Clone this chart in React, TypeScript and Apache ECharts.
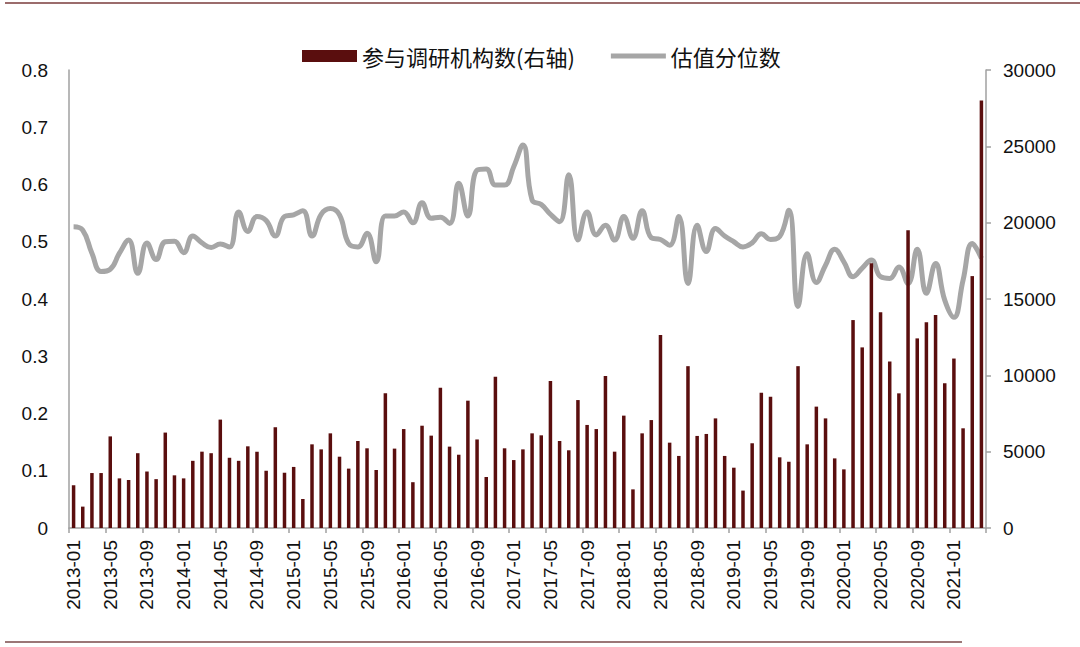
import React, { useEffect, useRef } from "react";
import * as echarts from "echarts";

const startYear = 2013;
const monthCount = 100; // 2013-01 .. 2021-04
const months: string[] = [];
for (let k = 0; k < monthCount; k++) {
  const y = startYear + Math.floor(k / 12);
  const m = (k % 12) + 1;
  months.push(`${y}-${m < 10 ? "0" + m : m}`);
}

const institutionCounts: number[] = [
  // 2013
  2800, 1400, 3600, 3600, 6000, 3250, 3150, 4900, 3700, 3200, 6250, 3450,
  // 2014
  3250, 4400, 5000, 4900, 7100, 4600, 4400, 5350, 5000, 3750, 6600, 3620,
  // 2015
  4000, 1900, 5480, 5150, 6200, 4670, 3890, 5700, 5220, 3800, 8820, 5200,
  // 2016
  6480, 3000, 6700, 6050, 9190, 5330, 4800, 8340, 5800, 3340, 9910, 5220,
  // 2017
  4450, 5150, 6200, 6070, 9630, 5700, 5090, 8380, 6750, 6480, 9960, 5000,
  // 2018
  7360, 2530, 6200, 7070, 12640, 5590, 4720, 10600, 6030, 6160, 7180, 4720,
  // 2019
  3950, 2450, 5550, 8860, 8600, 4630, 4340, 10600, 5480, 7950, 7180, 4560,
  // 2020
  3840, 13620, 11830, 17340, 14130, 10900, 8820, 19500, 12420, 13470, 13950, 9480,
  // 2021
  11100, 6530, 16500, 28000,
];

const valuationPercentile: number[] = [
  // 2013
  0.526, 0.52, 0.48, 0.448, 0.452, 0.48, 0.503, 0.445, 0.498, 0.469, 0.5, 0.501,
  // 2014
  0.481, 0.51, 0.498, 0.49, 0.496, 0.491, 0.552, 0.518, 0.544, 0.537, 0.51, 0.544,
  // 2015
  0.547, 0.554, 0.51, 0.548, 0.558, 0.547, 0.497, 0.491, 0.515, 0.465, 0.545, 0.545,
  // 2016
  0.552, 0.533, 0.568, 0.541, 0.543, 0.532, 0.602, 0.545, 0.625, 0.627, 0.599, 0.599,
  // 2017
  0.631, 0.669, 0.573, 0.565, 0.548, 0.535, 0.617, 0.503, 0.552, 0.512, 0.529, 0.503,
  // 2018
  0.544, 0.506, 0.554, 0.507, 0.504, 0.494, 0.544, 0.427, 0.529, 0.483, 0.523, 0.51,
  // 2019
  0.5, 0.491, 0.498, 0.514, 0.504, 0.509, 0.555, 0.387, 0.479, 0.429, 0.459, 0.487,
  // 2020
  0.465, 0.439, 0.454, 0.468, 0.439, 0.436, 0.456, 0.427, 0.487, 0.41, 0.462, 0.398,
  // 2021
  0.368, 0.433, 0.497, 0.471,
];

const barName = "参与调研机构数(右轴)";
const lineName = "估值分位数";

export default function App() {
  const ref = useRef<HTMLDivElement>(null);

  useEffect(() => {
    document.body.style.margin = "0";
    if (!ref.current) return;
    const chart = echarts.init(ref.current, null, { renderer: "svg" });
    const latin = "'Liberation Sans', Arial, 'Noto Sans CJK SC', sans-serif";
    const cjk = "'Noto Sans CJK SC', 'Liberation Sans', sans-serif";
    chart.setOption({
      animation: false,
      backgroundColor: "#ffffff",
      grid: { left: 69, right: 94, top: 70, bottom: 119, containLabel: false },
      legend: {
        top: 40,
        left: 297,
        itemWidth: 55,
        itemHeight: 12,
        itemGap: 36,
        data: [
          { name: barName, icon: "rect" },
          {
            name: lineName,
            icon: "path://M0,0 L0.01,0 L0.01,0.01 Z M0,3.5 L55,3.5 L55,8.5 L0,8.5 Z M0,12 L0.01,12 L0.01,11.99 Z",
            itemStyle: { color: "#a6a6a6" },
          },
        ],
        textStyle: { fontSize: 22, color: "#111", fontFamily: cjk },
      },
      xAxis: {
        type: "category",
        data: months,
        boundaryGap: true,
        axisLine: { show: true, lineStyle: { color: "#a0a0a0", width: 1.5 } },
        axisTick: {
          show: true,
          interval: 3,
          alignWithLabel: false,
          length: 5,
          lineStyle: { color: "#a0a0a0", width: 1.5 },
        },
        axisLabel: {
          interval: 3,
          rotate: 90,
          margin: 12,
          fontSize: 19,
          color: "#111",
          fontFamily: latin,
        },
        splitLine: { show: false },
      },
      yAxis: [
        {
          type: "value",
          min: 0,
          max: 0.8,
          interval: 0.1,
          position: "left",
          axisLine: { show: true, lineStyle: { color: "#a0a0a0", width: 1.5 } },
          axisTick: { show: false },
          splitLine: { show: false },
          axisLabel: {
            margin: 21,
            fontSize: 19,
            color: "#111",
            fontFamily: latin,
            formatter: (v: number) => (v === 0 ? "0" : v.toFixed(1)),
          },
        },
        {
          type: "value",
          min: 0,
          max: 30000,
          interval: 5000,
          position: "right",
          axisLine: { show: true, lineStyle: { color: "#a0a0a0", width: 1.5 } },
          axisTick: { show: true, length: 5, lineStyle: { color: "#a0a0a0", width: 1.5 } },
          splitLine: { show: false },
          axisLabel: {
            margin: 17,
            fontSize: 19,
            color: "#111",
            fontFamily: latin,
            formatter: (v: number) => String(Math.round(v)),
          },
        },
      ],
      series: [
        {
          name: lineName,
          type: "line",
          yAxisIndex: 0,
          data: valuationPercentile,
          smooth: 0.45,
          symbol: "none",
          lineStyle: { color: "#a6a6a6", width: 5 },
          itemStyle: { color: "#a6a6a6" },
          z: 2,
        },
        {
          name: barName,
          type: "bar",
          yAxisIndex: 1,
          data: institutionCounts,
          barWidth: 3.5,
          itemStyle: { color: "#5a0e0e" },
          z: 3,
        },
      ],
      graphic: [
        {
          type: "line",
          shape: { x1: 5, y1: 3, x2: 1080, y2: 3 },
          style: { stroke: "#7a3b3b", lineWidth: 1.5 },
        },
        {
          type: "line",
          shape: { x1: 5, y1: 642, x2: 962, y2: 642 },
          style: { stroke: "#7a4a4a", lineWidth: 1.5 },
        },
      ],
    });
    return () => chart.dispose();
  }, []);

  return (
    <div
      ref={ref}
      style={{ position: "fixed", left: 0, top: 0, width: 1080, height: 647 }}
    />
  );
}
